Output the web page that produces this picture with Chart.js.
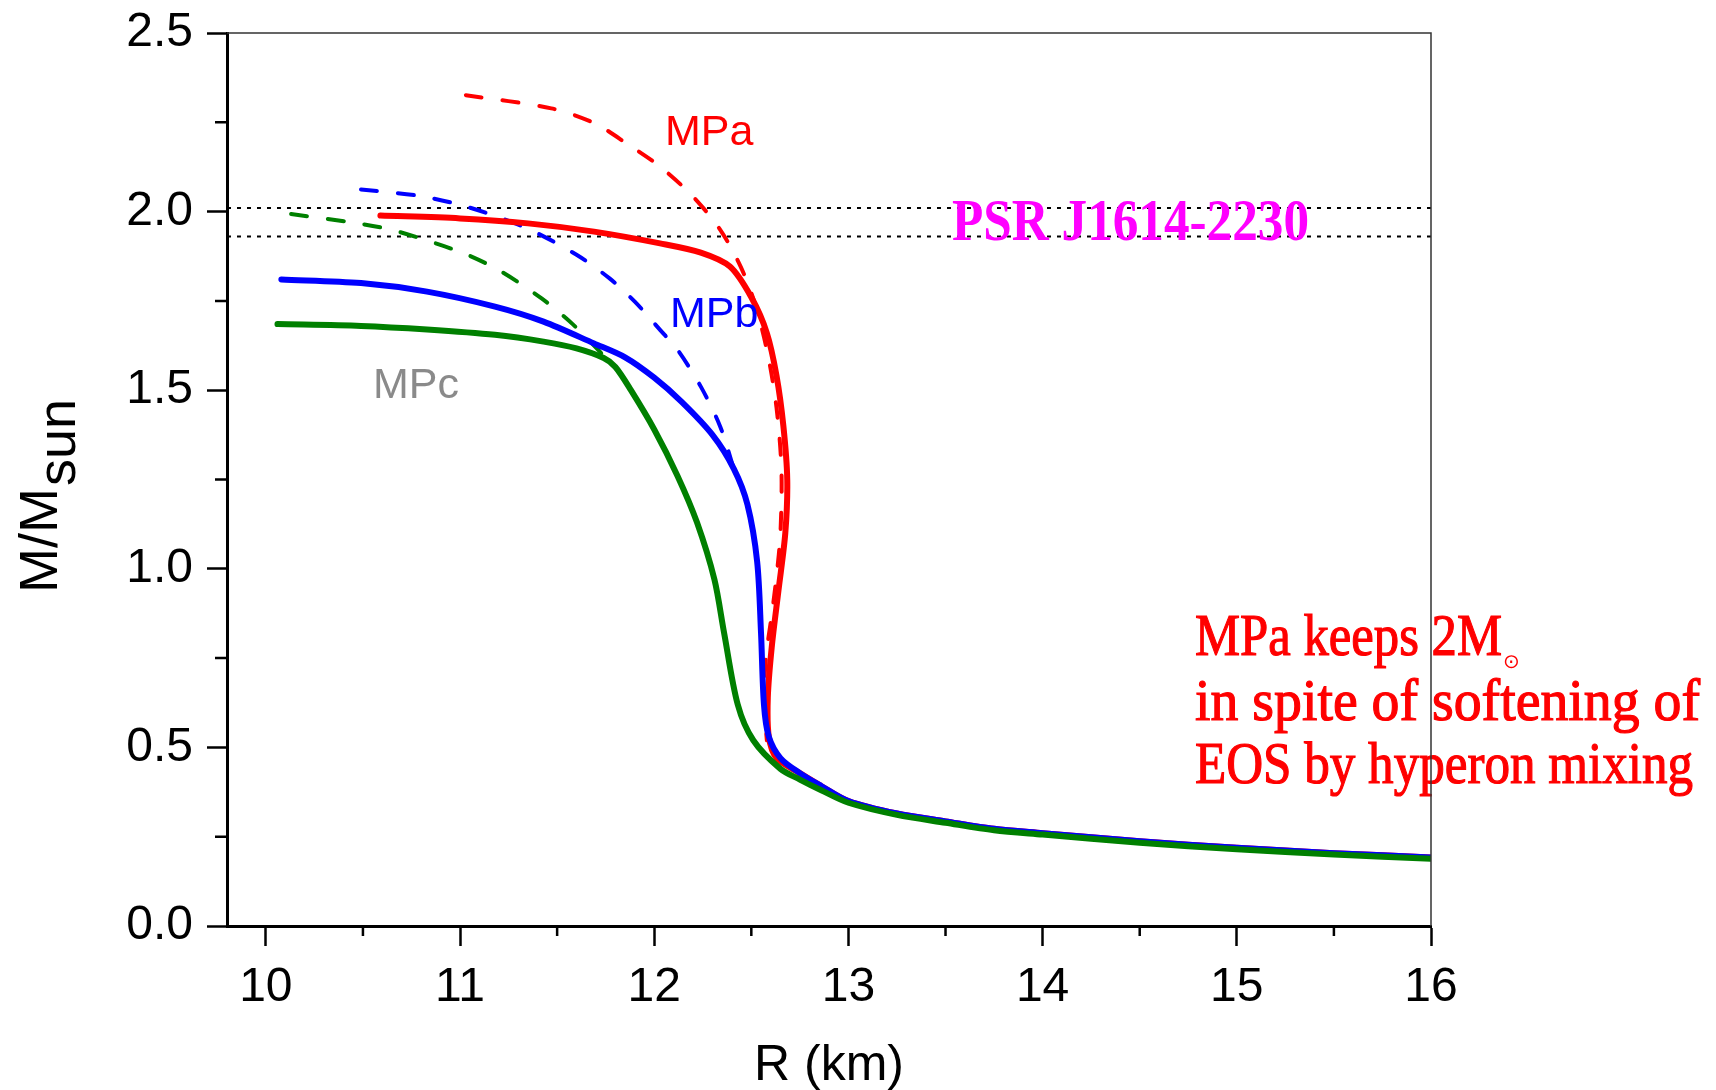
<!DOCTYPE html>
<html>
<head>
<meta charset="utf-8">
<title>Neutron star M-R: MPa / MPb / MPc</title>
<script src="https://cdn.jsdelivr.net/npm/chart.js@4.4.1/dist/chart.umd.min.js"></script>
<style>
  html, body { margin: 0; padding: 0; background: #fff; }
  canvas { display: block; }
</style>
</head>
<body>
<canvas id="mrChart" width="1716" height="1090"></canvas>
<script>
// radius R (km) and mass M (Msun)
const mpaR = [10.59, 11.00, 11.35, 11.69, 12.03, 12.24, 12.39, 12.50, 12.58, 12.63, 12.665, 12.685, 12.675, 12.64, 12.605, 12.585, 12.59, 12.63];
const mpaM = [1.989, 1.981, 1.967, 1.944, 1.911, 1.885, 1.846, 1.760, 1.660, 1.540, 1.400, 1.250, 1.100, 0.940, 0.780, 0.640, 0.530, 0.470];

const mpbR = [10.08, 10.49, 10.83, 11.18, 11.43, 11.69, 11.85, 12.00, 12.14, 12.30, 12.41, 12.48, 12.53, 12.55, 12.565, 12.59, 12.65];
const mpbM = [1.810, 1.800, 1.776, 1.734, 1.692, 1.631, 1.592, 1.535, 1.468, 1.375, 1.280, 1.180, 1.020, 0.820, 0.620, 0.530, 0.470];

// low-mass branch shared by MPa and MPb
const tailR = [12.75, 12.86, 13.00, 13.25, 13.50, 13.75, 14.00, 14.50, 15.00, 15.50, 16.00];
const tailM = [0.428, 0.392, 0.350, 0.315, 0.293, 0.272, 0.260, 0.237, 0.219, 0.204, 0.192];

const mpcR = [10.06, 10.49, 10.83, 11.18, 11.43, 11.60, 11.74, 11.80, 11.88, 12.00, 12.12, 12.22, 12.31, 12.36, 12.43, 12.51, 12.65, 12.75, 12.86, 13.00, 13.25, 13.50, 13.75, 14.00, 14.50, 15.00, 15.50, 16.00];
const mpcM = [1.685, 1.680, 1.670, 1.655, 1.636, 1.617, 1.590, 1.565, 1.500, 1.390, 1.260, 1.130, 0.970, 0.820, 0.620, 0.520, 0.440, 0.410, 0.380, 0.345, 0.311, 0.289, 0.268, 0.256, 0.233, 0.215, 0.200, 0.188];

// dashed: without hyperons
const mpaNoHypR = [11.03, 11.47, 11.69, 11.86, 12.03, 12.20, 12.34, 12.445, 12.52, 12.585, 12.63, 12.655, 12.65, 12.63, 12.605, 12.575, 12.565, 12.58];
const mpaNoHypM = [2.326, 2.289, 2.248, 2.190, 2.126, 2.042, 1.949, 1.846, 1.740, 1.600, 1.450, 1.280, 1.100, 0.980, 0.870, 0.750, 0.620, 0.520];

const mpbNoHypR = [10.49, 10.79, 11.00, 11.18, 11.37, 11.60, 11.77, 11.90, 12.03, 12.12, 12.24, 12.34, 12.41];
const mpbNoHypM = [2.062, 2.044, 2.019, 1.988, 1.947, 1.879, 1.813, 1.748, 1.669, 1.613, 1.510, 1.398, 1.280];

const mpcNoHypR = [10.13, 10.44, 10.64, 10.83, 11.02, 11.20, 11.42, 11.58, 11.72, 11.77];
const mpcNoHypM = [1.993, 1.970, 1.950, 1.919, 1.883, 1.836, 1.757, 1.685, 1.608, 1.578];

// PSR J1614-2230 band and axis ticks
const psrBand = [1.93, 2.01];
const rRange = [9.8, 16];
const xMajor = [10, 11, 12, 13, 14, 15, 16];
const xMinor = [10.5, 11.5, 12.5, 13.5, 14.5, 15.5];
const yMajor = [0, 0.5, 1.0, 1.5, 2.0, 2.5];
const yMinor = [0.25, 0.75, 1.25, 1.75, 2.25];

const SANS = '"Liberation Sans", Arial, Helvetica, sans-serif';
const SERIF = '"Liberation Serif", "Times New Roman", serif';

function pts(rs, ms) {
  return rs.map((r, i) => ({ x: r, y: ms[i] }));
}

function solid(data, color) {
  return { data, borderColor: color, borderWidth: 6, borderCapStyle: 'round', borderJoinStyle: 'round',
    showLine: true, pointRadius: 0, tension: 0.3, fill: false };
}
function dashed(data, color) {
  return { data, borderColor: color, borderWidth: 4, borderDash: [16, 21], borderCapStyle: 'round',
    showLine: true, pointRadius: 0, tension: 0.3, fill: false };
}
function dotted(m) {
  return { data: [{ x: rRange[0], y: m }, { x: rRange[1], y: m }], borderColor: '#000', borderWidth: 2,
    borderDash: [4, 6], showLine: true, pointRadius: 0, fill: false };
}

// heavier text: fill + thin outline
function heavyText(ctx, text, x, y, maxW, stroke) {
  ctx.fillText(text, x, y, maxW);
  if (stroke) {
    ctx.lineWidth = stroke;
    ctx.strokeStyle = ctx.fillStyle;
    ctx.strokeText(text, x, y, maxW);
  }
}

const decorations = {
  id: 'decorations',
  afterDatasetsDraw(chart) {
    const { ctx, chartArea: a, scales: { x, y } } = chart;
    ctx.save();

    // minor ticks
    ctx.strokeStyle = '#000';
    ctx.lineWidth = 2.5;
    ctx.beginPath();
    xMinor.forEach(v => {
      const px = x.getPixelForValue(v);
      ctx.moveTo(px, a.bottom);
      ctx.lineTo(px, a.bottom + 10);
    });
    yMinor.forEach(v => {
      const py = y.getPixelForValue(v);
      ctx.moveTo(a.left, py);
      ctx.lineTo(a.left - 12, py);
    });
    ctx.stroke();

    // curve names
    ctx.textAlign = 'left';
    ctx.textBaseline = 'alphabetic';
    ctx.font = '43px ' + SANS;
    ctx.fillStyle = '#ff0000';
    ctx.fillText('MPa', 665, 145);
    ctx.fillStyle = '#0000ff';
    ctx.fillText('MPb', 670, 327);
    ctx.fillStyle = '#8a8a8a';
    ctx.fillText('MPc', 373, 398);

    // pulsar label
    ctx.font = 'bold 60px ' + SERIF;
    ctx.fillStyle = '#ff00ff';
    heavyText(ctx, 'PSR J1614-2230', 952, 240, 357, 0);

    // note
    ctx.font = '60px ' + SERIF;
    ctx.fillStyle = '#ff0000';
    heavyText(ctx, 'MPa keeps 2M', 1195, 655, 307, 1.2);
    heavyText(ctx, 'in spite of softening of', 1195, 720, 505, 1.2);
    heavyText(ctx, 'EOS by hyperon mixing', 1195, 783, 498, 1.2);
    ctx.font = '20px "DejaVu Sans", sans-serif';
    ctx.fillText('\u2299', 1503, 668);

    // y axis title with subscript
    ctx.fillStyle = '#000';
    ctx.translate(57, 593);
    ctx.rotate(-Math.PI / 2);
    ctx.font = '54px ' + SANS;
    ctx.fillText('M/M', 0, 0);
    const w = ctx.measureText('M/M').width;
    ctx.fillText('sun', w + 2, 18);
    ctx.restore();
  },
  afterDraw(chart) {
    const { ctx, chartArea: a } = chart;
    ctx.save();
    ctx.strokeStyle = '#333';
    ctx.lineWidth = 1.5;
    ctx.beginPath();
    ctx.moveTo(a.left, a.top);
    ctx.lineTo(a.right, a.top);
    ctx.lineTo(a.right, a.bottom);
    ctx.stroke();
    ctx.restore();
  }
};

new Chart(document.getElementById('mrChart'), {
  type: 'scatter',
  data: {
    datasets: [
      solid(pts(mpcR, mpcM), '#008000'),
      solid(pts(mpbR.concat(tailR), mpbM.concat(tailM)), '#0000ff'),
      solid(pts(mpaR.concat(tailR), mpaM.concat(tailM)), '#ff0000'),
      dashed(pts(mpcNoHypR, mpcNoHypM), '#008000'),
      dashed(pts(mpbNoHypR, mpbNoHypM), '#0000ff'),
      dashed(pts(mpaNoHypR, mpaNoHypM), '#ff0000'),
      dotted(psrBand[1]),
      dotted(psrBand[0])
    ]
  },
  options: {
    responsive: false,
    animation: false,
    devicePixelRatio: 1,
    layout: { padding: { left: 0, right: 285, top: 33, bottom: 0 } },
    plugins: { legend: { display: false }, tooltip: { enabled: false } },
    scales: {
      x: {
        type: 'linear',
        min: rRange[0],
        max: rRange[1],
        afterFit: s => { s.height = 164; s.paddingLeft = 0; s.paddingRight = 0; },
        afterBuildTicks: s => { s.ticks = xMajor.map(v => ({ value: v })); },
        border: { display: true, color: '#000', width: 3 },
        grid: { display: true, drawOnChartArea: false, drawTicks: true, tickLength: 20, tickWidth: 2.5, tickColor: '#000' },
        ticks: { color: '#000', font: { family: SANS, size: 48 }, padding: 13, maxRotation: 0, callback: v => String(v) },
        title: { display: true, text: 'R (km)', color: '#000', font: { family: SANS, size: 50 }, padding: { top: 0, bottom: -6 } }
      },
      y: {
        min: 0,
        max: 2.5,
        afterFit: s => { s.width = 227; s.paddingTop = 0; s.paddingBottom = 0; },
        afterBuildTicks: s => { s.ticks = yMajor.map(v => ({ value: v })); },
        border: { display: true, color: '#000', width: 3 },
        grid: { display: true, drawOnChartArea: false, drawTicks: true, tickLength: 20, tickWidth: 2.5, tickColor: '#000' },
        ticks: { color: '#000', font: { family: SANS, size: 48 }, padding: 14, callback: v => v.toFixed(1) }
      }
    }
  },
  plugins: [decorations]
});
</script>
</body>
</html>
